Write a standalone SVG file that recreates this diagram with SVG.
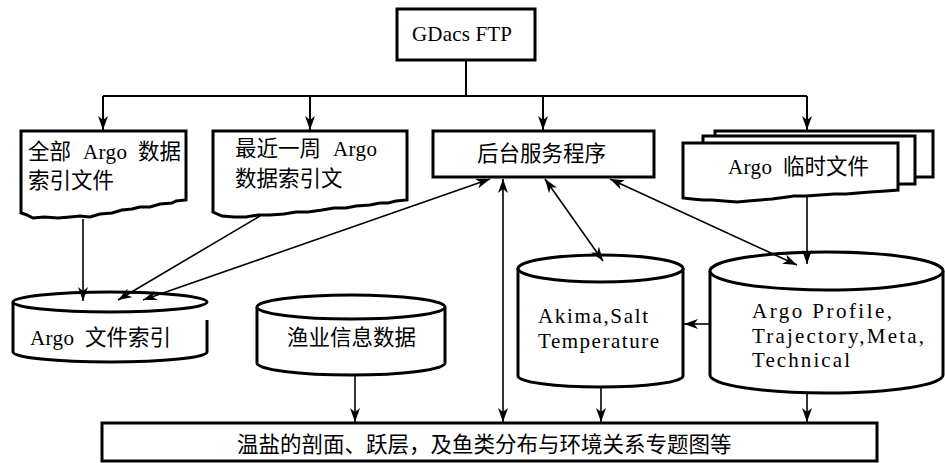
<svg xmlns="http://www.w3.org/2000/svg" width="945" height="463" viewBox="0 0 945 463">
<style>
.n{fill:#fff;stroke:#000;stroke-width:3;stroke-linejoin:miter}
.c{fill:none;stroke:#000;stroke-width:2}
.d{fill:none;stroke:#000;stroke-width:1.6}
.zh{font-family:"Noto Sans CJK SC","Liberation Serif",serif;font-size:21.5px;fill:#000}
.en{font-family:"Liberation Serif","Noto Sans CJK SC",serif;font-size:21px;fill:#000}
</style>
<defs>
<marker id="ah" viewBox="0 0 14 10" markerWidth="14" markerHeight="10" refX="14" refY="5" orient="auto-start-reverse" markerUnits="userSpaceOnUse">
<path d="M0,0 L14,5 L0,10 L4,5 Z" fill="#000"/>
</marker>
</defs>
<rect width="945" height="463" fill="#fff"/>
<g id="gdacs">
<rect class="n" x="397" y="9" width="138" height="51"/>
<text class="en" x="412" y="41" textLength="100" lengthAdjust="spacing">GDacs FTP</text>
</g>
<g id="doc-all">
<path class="n" d="M21,131 H186 V200 L176,201 L172,203 L160,204 L150,207 L140,207 L132,209 L122,210 L112,213 L100,214 L90,217 L80,216 L70,217 L58,218 L44,217 L33,218 L27,215 L21,213 Z"/>
<text class="zh" x="28" y="159">全部</text>
<text class="en" x="83" y="159" textLength="44" lengthAdjust="spacing">Argo</text>
<text class="zh" x="138" y="159">数据</text>
<text class="zh" x="28" y="188">索引文件</text>
</g>
<g id="doc-week">
<path class="n" d="M213,131 H407 V200 L396,201 L388,203 L380,203 L370,205 L356,206 L346,208 L334,208 L322,210 L308,212 L296,212 L284,214 L270,215 L258,215 L246,217 L234,217 L222,216 L213,212 Z"/>
<text class="zh" x="235" y="156">最近一周</text>
<text class="en" x="333" y="156" textLength="44" lengthAdjust="spacing">Argo</text>
<text class="zh" x="235" y="186">数据索引文</text>
</g>
<g id="service">
<rect class="n" x="433" y="131" width="221" height="46"/>
<text class="zh" x="477" y="161">后台服务程序</text>
</g>
<g id="temp-files">
<rect class="n" x="715" y="131" width="218" height="46"/>
<rect class="n" x="703" y="136" width="212" height="48"/>
<path class="n" d="M683,143 H898 V190 L886,191 L870,192 L858,193 L846,194 L834,194 L820,195 L806,196 L794,196 L787,197 L772,199 L760,200 L748,201 L737,202 L724,201 L712,200 L703,200 L692,199 L683,198 Z"/>
<text class="en" x="728" y="174" textLength="44" lengthAdjust="spacing">Argo</text>
<text class="zh" x="783" y="174">临时文件</text>
</g>
<g id="argo-index">
<path class="n" d="M13,302 V352 A97,10 0 0 0 207,352 V320"/>
<ellipse class="n" cx="110" cy="302" rx="97" ry="10"/>
<text class="en" x="30" y="345" textLength="44" lengthAdjust="spacing">Argo</text>
<text class="zh" x="85" y="345">文件索引</text>
</g>
<g id="fishery">
<path class="n" d="M257,307 V363 A94,12 0 0 0 445,363 V307"/>
<ellipse class="n" cx="351" cy="307" rx="94" ry="12"/>
<text class="zh" x="287" y="345">渔业信息数据</text>
</g>
<g id="akima">
<path class="n" d="M518,268 V376 A82.5,11 0 0 0 683,376 V268"/>
<ellipse class="n" cx="600.5" cy="268.5" rx="82.5" ry="13.5"/>
<text class="en" x="538" y="323" textLength="110" lengthAdjust="spacing">Akima,Salt</text>
<text class="en" x="538" y="348" textLength="121" lengthAdjust="spacing">Temperature</text>
</g>
<g id="argo-profile">
<path class="n" d="M710,271 V375 A116.5,18 0 0 0 943,375 V271"/>
<ellipse class="n" cx="826.5" cy="271" rx="116.5" ry="19"/>
<text class="en" x="752" y="318" textLength="140" lengthAdjust="spacing">Argo Profile,</text>
<text class="en" x="752" y="343" textLength="172" lengthAdjust="spacing">Trajectory,Meta,</text>
<text class="en" x="752" y="367" textLength="98" lengthAdjust="spacing">Technical</text>
</g>
<g id="output">
<rect class="n" x="102" y="423" width="775" height="38"/>
<text class="zh" x="237" y="452">温盐的剖面、跃层，及鱼类分布与环境关系专题图等</text>
</g>
<g id="connectors">
<path class="c" d="M466,60 V96 M103,96 H807"/>
<path class="c" d="M103,96 V130" marker-end="url(#ah)"/>
<path class="c" d="M310,96 V130" marker-end="url(#ah)"/>
<path class="c" d="M543,96 V130" marker-end="url(#ah)"/>
<path class="c" d="M807,96 V130" marker-end="url(#ah)"/>
<path class="d" d="M83,219 V301" marker-end="url(#ah)"/>
<path class="d" d="M260,216 L118,300" marker-end="url(#ah)"/>
<path class="d" d="M490,179 L143,300" marker-start="url(#ah)" marker-end="url(#ah)"/>
<path class="d" d="M503,179 V422" marker-start="url(#ah)" marker-end="url(#ah)"/>
<path class="d" d="M545,179 L603,261" marker-start="url(#ah)" marker-end="url(#ah)"/>
<path class="d" d="M610,179 L797,265" marker-start="url(#ah)" marker-end="url(#ah)"/>
<path class="d" d="M710,324 H684" marker-end="url(#ah)"/>
<path class="d" d="M807,197 V264" marker-end="url(#ah)"/>
<path class="d" d="M355,376 V422" marker-end="url(#ah)"/>
<path class="d" d="M601,388 V422" marker-end="url(#ah)"/>
<path class="d" d="M807,394 V422" marker-end="url(#ah)"/>
</g>
</svg>
